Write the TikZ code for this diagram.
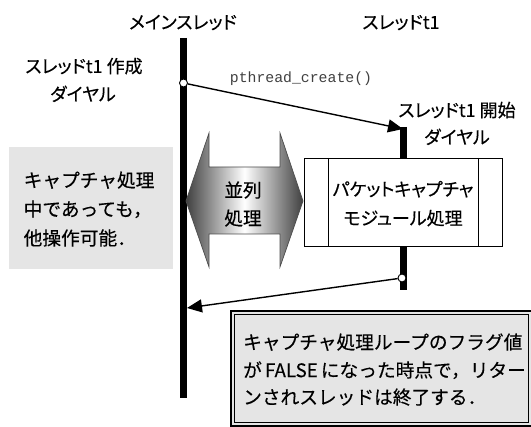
\documentclass[tikz,border=0pt]{standalone}
\usepackage{fontspec}
\setmainfont{Noto Sans CJK JP}
\newfontfamily\jpp{Noto Sans CJK JP}[RawFeature=+palt,FakeBold=0.3]
\newfontfamily\jpf{Noto Sans CJK JP}[FakeBold=0.3]
\newfontfamily\monof{Liberation Mono}
\usetikzlibrary{arrows.meta}
\begin{document}
\begin{tikzpicture}[x=1pt,y=-1pt,
  bar/.style={line width=7pt,black},
  dotnode/.style={circle,draw=black,fill=white,line width=0.9pt,inner sep=0pt,minimum size=8pt},
  msg/.style={line width=1.4pt,-{Triangle[length=15pt,width=13pt]}},
  lblp/.style={inner sep=0pt,font=\jpp\fontsize{18}{18}\selectfont,text height=15.9pt,text depth=2.1pt},
  lblf/.style={inner sep=0pt,font=\jpf\fontsize{18.7}{18.7}\selectfont,text height=16.5pt,text depth=2.2pt},
  graybox/.style={fill=black!10,draw=none},
  procbox/.style={draw=black,fill=white,line width=0.9pt},
  blockarrow/.style={draw=black!70,line width=0.7pt,left color=black!75,right color=black!75,middle color=white}
]
\useasboundingbox (0,0) rectangle (531,427);

% gray note box
\path[graybox] (8.5,147) rectangle (172.5,269);
\node[lblf,anchor=west] (g1) at (23.5,180) {キャプチャ処理};
\node[lblf,anchor=west] (g2) at (23.5,209) {中であっても，};
\node[lblf,anchor=west] (g3) at (23.5,238) {他操作可能．};

% thread bars
\coordinate (mtop) at (183.5,38);
\coordinate (mbot) at (183.5,398);
\coordinate (ttop) at (403,127);
\coordinate (tbot) at (403,290);
\draw[bar] (mtop) -- (mbot);
\draw[bar] (ttop) -- (tbot);

% titles
\node[lblp] (mt) at (183,22) {メインスレッド};
\node[lblp] (tt) at (401,22) {スレッドt1};
\node[lblp] (c1) at (84,66) {スレッドt1 作成};
\node[lblp] (c2) at (83,94) {ダイヤル};
\node[lblp] (s1) at (457,110) {スレッドt1 開始};
\node[lblp] (s2) at (457,137) {ダイヤル};

% block double arrow
\path[blockarrow] (186,201) -- (209,133) -- (209,167) -- (280,167) -- (280,133)
  -- (303,201) -- (280,267) -- (280,234) -- (209,234) -- (209,267) -- cycle;
\node[lblf] (p1) at (243,190) {並列};
\node[lblf] (p2) at (243,218) {処理};

% process box
\draw[procbox] (304,158) rectangle (502,246);
\draw[line width=0.9pt] (328,158) -- (328,246) (478,158) -- (478,246);
\node[lblp] (b1) at (403,189) {パケットキャプチャ};
\node[lblp] (b2) at (403,218) {モジュール処理};

% messages
\node[dotnode] (cd) at (183.5,83) {};
\node[dotnode] (rd) at (402,278) {};
\coordinate (ctip) at (403,129);
\coordinate (rtip) at (187,308);
\draw[msg] (cd) -- (ctip);
\draw[msg] (rd) -- (rtip);
\node[inner sep=0pt,font=\monof\fontsize{14.8}{15}\selectfont,text=black!75] (pc) at (301,79) {pthread\_create()};

% bottom note
\draw[fill=black!10,line width=1.8pt] (231,311) rectangle (534,426);
\draw[line width=0.8pt] (234.5,314.5) rectangle (528,422.5);
\node[lblf,anchor=west] (n1) at (243,342) {キャプチャ処理ループのフラグ値};
\node[lblf,anchor=west] (n2) at (243,370) {が\,FALSE\,になった時点で，リター};
\node[lblf,anchor=west] (n3) at (243,397) {ンされスレッドは終了する．};
\end{tikzpicture}
\end{document}
